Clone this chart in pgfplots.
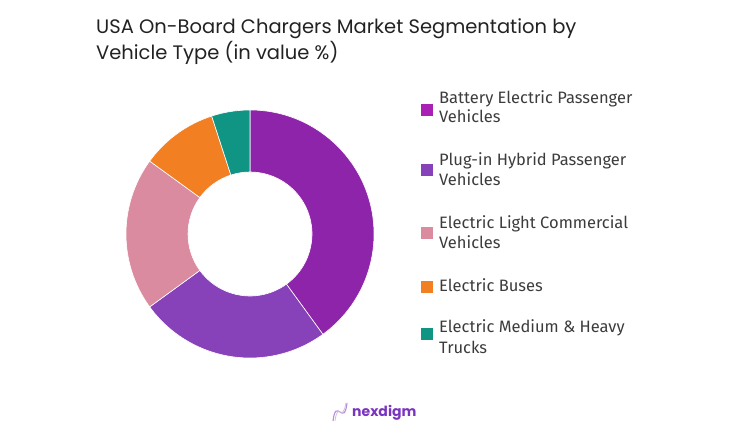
\documentclass[border=0pt]{standalone}
\usepackage{pgfplots}
\pgfplotsset{compat=1.18}
\usepackage{fontspec}
\setmainfont{Fira Sans}
\newfontfamily\titlefont{Poppins}
\definecolor{c1}{HTML}{8E24AA}
\definecolor{c1sq}{HTML}{A820B4}
\definecolor{c2}{HTML}{8741B9}
\definecolor{c3}{HTML}{DA8BA0}
\definecolor{c4}{HTML}{F28022}
\definecolor{c5}{HTML}{109484}
\definecolor{titlegray}{HTML}{222222}
\definecolor{leggray}{HTML}{3C3C3C}
\definecolor{logo}{HTML}{7A35C0}
% segment: start %, end %, colour (centre 250,202; radii 124 / 62)
\newcommand{\seg}[3]{%
  \fill[#3, draw=white, line width=0.6pt]
    (axis cs:{250+124*cos(90-3.6*#1)},{202+124*sin(90-3.6*#1)})
    arc[start angle={90-3.6*#1}, end angle={90-3.6*#2}, radius=124pt]
    -- (axis cs:{250+62*cos(90-3.6*#2)},{202+62*sin(90-3.6*#2)})
    arc[start angle={90-3.6*#2}, end angle={90-3.6*#1}, radius=62pt]
    -- cycle;}
\begin{document}
\begin{tikzpicture}
\begin{axis}[
  scale only axis, width=742pt, height=436pt,
  xmin=0, xmax=742, ymin=0, ymax=436,
  hide axis, clip=false]
\path (axis cs:0,0) rectangle (axis cs:742,436);
% values: 40, 25, 20, 10, 5 (cumulative 0-40-65-85-95-100)
\seg{0}{40}{c1}
\seg{40}{65}{c2}
\seg{65}{85}{c3}
\seg{85}{95}{c4}
\seg{95}{100}{c5}
% title
\node[anchor=base west, inner sep=0pt, text=titlegray, font=\titlefont\fontsize{19.5}{26}\selectfont, align=left]
  at (axis cs:96,402.5) {USA On-Board Chargers Market Segmentation by};
\node[anchor=base west, inner sep=0pt, text=titlegray, font=\titlefont\fontsize{19.5}{26}\selectfont, align=left]
  at (axis cs:96,376.5) {Vehicle Type (in value \%)};
% legend
\fill[c1sq] (axis cs:421,320) rectangle (axis cs:433,332);
\fill[c2] (axis cs:421,260) rectangle (axis cs:433,272);
\fill[c3] (axis cs:421,197) rectangle (axis cs:433,209);
\fill[c4] (axis cs:421,143) rectangle (axis cs:433,155);
\fill[c5] (axis cs:421,95.5) rectangle (axis cs:433,107.5);
\begin{scope}[every node/.style={anchor=base west, inner sep=0pt, text=leggray, font=\fontsize{16.5}{20}\selectfont}]
\node at (axis cs:439,332.7) {Battery Electric Passenger};
\node at (axis cs:439,313.3) {Vehicles};
\node at (axis cs:439,270) {Plug-in Hybrid Passenger};
\node at (axis cs:439,250) {Vehicles};
\node at (axis cs:439,207.7) {Electric Light Commercial};
\node at (axis cs:439,187.7) {Vehicles};
\node at (axis cs:439,144.3) {Electric Buses};
\node at (axis cs:439,103.7) {Electric Medium \& Heavy};
\node at (axis cs:439,82) {Trucks};
\end{scope}
% logo
\draw[c2!60, line width=1.1pt] (axis cs:333,15) .. controls (axis cs:336,40) and (axis cs:344,8) .. (axis cs:347,33);
\draw[c2!35, line width=0.8pt] (axis cs:335,15) .. controls (axis cs:338,36) and (axis cs:342,12) .. (axis cs:346,33);
\node[anchor=base west, inner sep=0pt, text=logo, font=\titlefont\bfseries\fontsize{14}{16}\selectfont]
  at (axis cs:352,19) {nexdigm};
\end{axis}
\end{tikzpicture}
\end{document}
